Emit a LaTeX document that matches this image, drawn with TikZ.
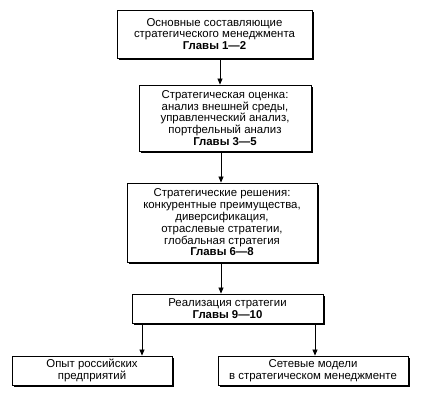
\documentclass[tikz,border=0pt]{standalone}
\usepackage{fontspec}
\setmainfont{Liberation Sans}
\usetikzlibrary{arrows.meta,shadows}
\begin{document}
\begin{tikzpicture}[x=1pt,y=-1pt,
  box/.style={draw=black,line width=0.9pt,fill=white,align=center,inner sep=0pt,
    font=\fontsize{11.4}{11.8}\selectfont,
    drop shadow={shadow xshift=1.6pt,shadow yshift=-1.6pt,fill=black,opacity=1}},
  arr/.style={-{Triangle[length=6pt,width=5pt]},line width=0.7pt}]
\useasboundingbox (0,0) rectangle (426,403);
\node[box,minimum width=195pt,minimum height=48pt] (b1) at (214.5,34)
  {Основные составляющие\\стратегического менеджмента\\\textbf{Главы 1—2}};
\node[box,minimum width=172pt,minimum height=66pt] (b2) at (225,118)
  {Стратегическая оценка:\\анализ внешней среды,\\управленческий анализ,\\портфельный анализ\\\textbf{Главы 3—5}};
\node[box,minimum width=190pt,minimum height=79pt] (b3) at (222,222.5)
  {Стратегические решения:\\конкурентные преимущества,\\диверсификация,\\отраслевые стратегии,\\глобальная стратегия\\\textbf{Главы 6—8}};
\node[box,minimum width=191pt,minimum height=29pt] (b4) at (227.5,308.5)
  {Реализация стратегии\\\textbf{Главы 9—10}};
\node[box,minimum width=160pt,minimum height=29pt] (b5) at (92,370.5)
  {Опыт российских\\предприятий};
\node[box,minimum width=190pt,minimum height=29pt] (b6) at (313,370.5)
  {Сетевые модели\\в стратегическом менеджменте};
\draw[arr] (b1.south -| 220,0) -- (b2.north -| 220,0);
\draw[arr] (b2.south -| 221,0) -- (b3.north -| 221,0);
\draw[arr] (b3.south -| 221,0) -- (b4.north -| 221,0);
\draw[arr] (b4.south -| 142,0) -- (b5.north -| 142,0);
\draw[arr] (b4.south -| 315,0) -- (b6.north -| 315,0);
\end{tikzpicture}
\end{document}
